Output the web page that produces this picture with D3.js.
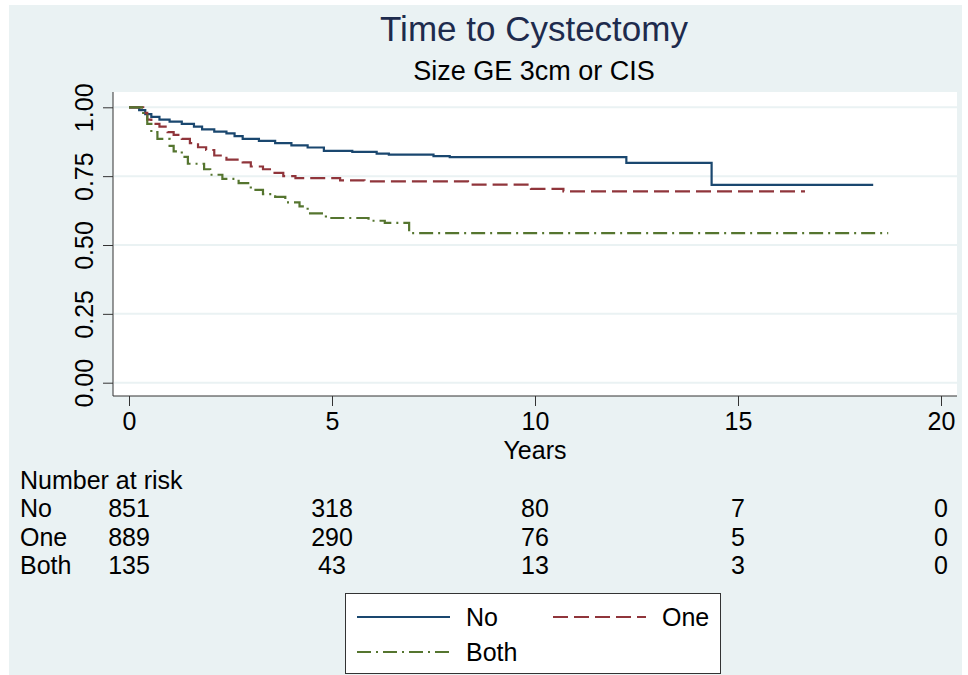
<!DOCTYPE html>
<html>
<head>
<meta charset="utf-8">
<script src="https://cdn.jsdelivr.net/npm/d3@7"></script>
<style>
  body { margin: 0; background: #fff; }
  text { font-family: "Liberation Sans", Arial, sans-serif; }
</style>
</head>
<body>
<div id="chart"></div>
<script>
// Kaplan-Meier estimates: [years, survival]
const noCurve = [
  [0, 1.0], [0.25, 0.99], [0.4, 0.975], [0.55, 0.965], [0.75, 0.955], [1.0, 0.948],
  [1.3, 0.94], [1.6, 0.93], [1.8, 0.92], [2.1, 0.912], [2.4, 0.905], [2.6, 0.895],
  [2.8, 0.885], [3.2, 0.878], [3.6, 0.87], [4.0, 0.862], [4.4, 0.854], [4.8, 0.842],
  [5.5, 0.838], [6.1, 0.832], [6.4, 0.828], [7.5, 0.823], [7.9, 0.819],
  [12.25, 0.798], [14.35, 0.718], [18.33, 0.718]
];
const oneCurve = [
  [0, 1.0], [0.35, 0.98], [0.45, 0.955], [0.55, 0.94], [0.75, 0.93], [0.95, 0.91],
  [1.1, 0.9], [1.3, 0.885], [1.5, 0.87], [1.7, 0.855], [1.9, 0.845], [2.1, 0.825],
  [2.4, 0.81], [2.8, 0.8], [3.0, 0.785], [3.3, 0.775], [3.5, 0.762], [3.8, 0.75],
  [4.1, 0.743], [5.2, 0.735], [5.8, 0.731], [8.35, 0.719], [9.9, 0.704],
  [10.7, 0.695], [16.65, 0.695]
];
const bothCurve = [
  [0, 1.0], [0.35, 0.97], [0.45, 0.94], [0.55, 0.91], [0.7, 0.885], [1.0, 0.86],
  [1.1, 0.84], [1.3, 0.82], [1.45, 0.795], [1.85, 0.775], [2.0, 0.755], [2.3, 0.74],
  [2.7, 0.725], [3.0, 0.70], [3.3, 0.685], [3.6, 0.675], [3.85, 0.655], [4.2, 0.64],
  [4.4, 0.615], [4.85, 0.598], [5.9, 0.588], [6.3, 0.58], [6.9, 0.543], [18.7, 0.543]
];

const groups = ["No", "One", "Both"];
const riskTimes = [0, 5, 10, 15, 20];
const riskNo = [851, 318, 80, 7, 0];
const riskOne = [889, 290, 76, 5, 0];
const riskBoth = [135, 43, 13, 3, 0];
const xTicks = [0, 5, 10, 15, 20];
const yTicks = [0, 0.25, 0.5, 0.75, 1];

const width = 968, height = 675;
const plot = {left: 113, right: 957, top: 92, bottom: 396};

const series = [
  {name: "No", data: noCurve, color: "#1a476f", dash: null},
  {name: "One", data: oneCurve, color: "#90353b", dash: "15,6"},
  {name: "Both", data: bothCurve, color: "#55752f", dash: "14,5,2,5"}
];

const svg = d3.select("#chart").append("svg")
  .attr("width", width).attr("height", height);

// outer graph region
svg.append("rect").attr("x", 9).attr("y", 5).attr("width", 953).attr("height", 670)
  .attr("fill", "#eaf2f3");
svg.append("rect").attr("x", plot.left).attr("y", plot.top)
  .attr("width", plot.right - plot.left).attr("height", plot.bottom - plot.top)
  .attr("fill", "#fff");

const x = d3.scaleLinear().domain([0, 20]).range([129, 941]);
const y = d3.scaleLinear().domain([0, 1]).range([382.7, 107.3]);

// grid lines
svg.selectAll("line.grid").data(yTicks).enter().append("line")
  .attr("class", "grid")
  .attr("x1", plot.left + 1).attr("x2", plot.right)
  .attr("y1", d => y(d)).attr("y2", d => y(d))
  .attr("stroke", "#eaf2f3").attr("stroke-width", 2);

// y axis
const yAxis = svg.append("g").attr("transform", `translate(${plot.left},0)`)
  .call(d3.axisLeft(y).tickValues(yTicks).tickFormat(d3.format(".2f")).tickSize(10).tickSizeOuter(0));
yAxis.select(".domain").attr("d", `M0,${plot.top}V${plot.bottom}`).attr("stroke", "#333");
yAxis.selectAll(".tick line").attr("stroke", "#333");
yAxis.selectAll(".tick text")
  .attr("font-size", 25).attr("fill", "#000")
  .attr("transform", "rotate(-90)")
  .attr("x", 0).attr("y", -20).attr("dy", 0)
  .attr("text-anchor", "middle");

// x axis
const xAxis = svg.append("g").attr("transform", `translate(0,${plot.bottom})`)
  .call(d3.axisBottom(x).tickValues(xTicks).tickSize(10).tickSizeOuter(0));
xAxis.select(".domain").attr("d", `M${plot.left},0H${plot.right}`).attr("stroke", "#333");
xAxis.selectAll(".tick line").attr("stroke", "#333");
xAxis.selectAll(".tick text").attr("font-size", 25).attr("fill", "#000")
  .attr("y", 34).attr("dy", 0);

svg.append("text").attr("x", x(10)).attr("y", 459).attr("text-anchor", "middle")
  .attr("font-size", 25).text("Years");

// curves
const line = d3.line().x(d => x(d[0])).y(d => y(d[1])).curve(d3.curveStepAfter);
svg.selectAll("path.km").data(series).enter().append("path")
  .attr("class", "km")
  .attr("d", d => line(d.data))
  .attr("fill", "none")
  .attr("stroke", d => d.color)
  .attr("stroke-width", 2.2)
  .attr("stroke-dasharray", d => d.dash);

// titles
svg.append("text").attr("x", 534).attr("y", 41).attr("text-anchor", "middle")
  .attr("font-size", 35).attr("fill", "#1e2b4d").text("Time to Cystectomy");
svg.append("text").attr("x", 534).attr("y", 80).attr("text-anchor", "middle")
  .attr("font-size", 27).attr("fill", "#000").text("Size GE 3cm or CIS");

// number at risk table
svg.append("text").attr("x", 20).attr("y", 489).attr("font-size", 25).text("Number at risk");
const riskRows = [riskNo, riskOne, riskBoth];
const rowY = [517, 546, 574];
riskRows.forEach((row, i) => {
  svg.append("text").attr("x", 20).attr("y", rowY[i]).attr("font-size", 25).text(groups[i]);
  svg.selectAll(null).data(row).enter().append("text")
    .attr("x", (d, j) => x(riskTimes[j]))
    .attr("y", rowY[i])
    .attr("text-anchor", "middle")
    .attr("font-size", 25)
    .text(d => d);
});

// legend
const legend = svg.append("g");
legend.append("rect").attr("x", 345.5).attr("y", 593.5).attr("width", 375).attr("height", 80)
  .attr("fill", "#fff").attr("stroke", "#333").attr("stroke-width", 1);
const legPos = [[357, 617], [553, 617], [357, 652]];
series.forEach((s, i) => {
  const [lx, ly] = legPos[i];
  legend.append("line").attr("x1", lx).attr("x2", lx + 93).attr("y1", ly).attr("y2", ly)
    .attr("stroke", s.color).attr("stroke-width", 2).attr("stroke-dasharray", s.dash);
  legend.append("text").attr("x", lx + 109).attr("y", ly + 9).attr("font-size", 25).text(s.name);
});
</script>
</body>
</html>
